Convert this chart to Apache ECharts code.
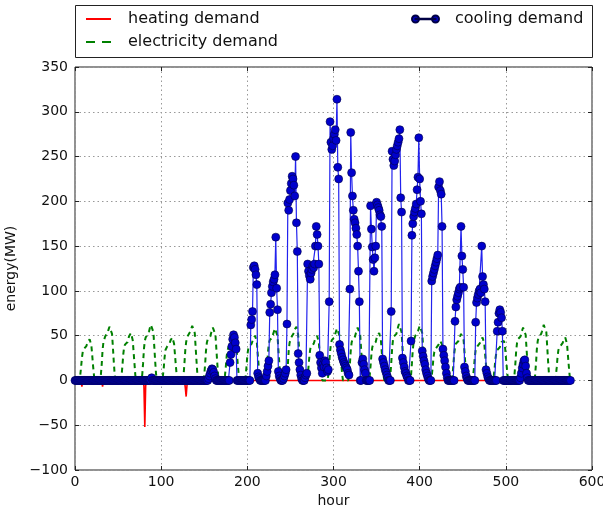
<!DOCTYPE html>
<html><head><meta charset="utf-8">
<script src="https://cdn.jsdelivr.net/npm/echarts@6/dist/echarts.min.js"></script>
<style>html,body{margin:0;padding:0;background:#fff}#c{width:603px;height:509px}</style>
</head><body><div id="c"></div>
<script>
// ---- data (hourly, 24 days) ----
const xTicks = [0, 100, 200, 300, 400, 500, 600];
const yTicks = [-100, -50, 0, 50, 100, 150, 200, 250, 300, 350];

// heating demand: breakpoints (hour, MW); zero elsewhere
const heatingHours  = [0, 7, 8, 9, 31, 32, 33, 79, 80, 81, 82, 83, 127, 128, 129, 130, 131, 136, 137, 138, 575];
const heatingValues = [0, 0, -7, 0, 0, -7, 0, 0, -6, -52, -6, 0, 0, -8, -18, -5, 0, 0, -5, 0, 0];

// electricity demand, one row per day (24 h)
const electricity = [
 0,0,0,0,0,0,5,14,25,32,35,37,36,38,40,43,45,46,45,39,28,16,6,0,
 0,0,0,0,0,0,6,18,34,43,46,49,48,50,54,57,60,61,59,52,37,21,7,0,
 0,0,0,0,0,0,5,16,29,37,40,42,41,43,47,50,52,53,51,45,32,19,6,0,
 0,0,0,0,0,0,6,19,35,44,48,50,49,52,55,59,62,63,61,54,38,22,8,0,
 0,0,0,0,0,0,5,14,26,34,36,38,37,39,42,45,47,48,47,41,29,17,6,0,
 0,0,0,0,0,0,6,19,34,43,47,50,48,51,55,58,61,62,60,53,37,22,7,0,
 0,0,0,0,0,0,6,18,33,42,46,48,47,49,53,56,59,60,58,51,36,21,7,0,
 0,0,0,0,0,0,5,15,27,33,37,38,38,40,42,45,47,48,46,41,29,17,6,0,
 0,0,0,0,0,0,5,15,28,35,38,40,39,41,44,47,49,50,48,43,30,18,6,0,
 0,0,0,0,0,0,6,18,32,41,45,47,46,48,52,55,58,59,57,50,35,21,7,0,
 0,0,0,0,0,0,6,17,33,42,45,48,47,50,53,57,59,60,58,51,36,21,7,0,
 0,0,0,0,0,0,5,15,27,35,38,40,39,41,44,47,49,50,49,42,30,17,6,0,
 0,0,0,0,0,0,6,17,32,41,45,47,46,48,52,55,58,59,57,50,35,20,7,0,
 0,0,0,0,0,0,6,18,33,42,46,48,47,49,53,56,59,60,58,51,36,21,7,0,
 0,0,0,0,0,0,5,16,29,37,40,42,41,43,47,50,52,53,51,45,32,19,6,0,
 0,0,0,0,0,0,6,19,35,45,49,51,50,52,56,60,63,64,62,54,38,22,8,0,
 0,0,0,0,0,0,6,19,34,43,47,50,48,51,55,58,61,62,60,53,37,22,7,0,
 0,0,0,0,0,0,5,14,25,32,34,36,35,37,40,42,44,45,44,38,27,16,5,0,
 0,0,0,0,0,0,5,16,29,37,41,42,41,44,47,49,52,53,51,45,32,19,6,0,
 0,0,0,0,0,0,5,14,26,34,36,38,38,39,42,45,47,48,46,41,29,17,6,0,
 0,0,0,0,0,0,5,14,25,31,34,36,35,37,40,43,44,45,44,38,27,16,5,0,
 0,0,0,0,0,0,6,18,33,42,46,48,47,49,53,56,59,60,58,51,36,21,7,0,
 0,0,0,0,0,0,6,19,35,44,48,50,49,52,55,59,62,63,61,54,38,22,8,0,
 0,0,0,0,0,0,5,14,26,34,36,38,37,39,42,45,47,48,47,41,29,17,6,0
];

// cooling demand, one row per day (24 h)
const cooling = [
 0,0,0,0,0,0,0,0,0,0,0,0,0,0,0,0,0,0,0,0,0,0,0,0,
 0,0,0,0,0,0,0,0,0,0,0,0,0,0,0,0,0,0,0,0,0,0,0,0,
 0,0,0,0,0,0,0,0,0,0,0,0,0,0,0,0,0,0,0,0,0,0,0,0,
 0,0,0,0,0,0,0,0,0,0,0,0,0,0,0,0,0,3,0,0,0,0,0,0,
 0,0,0,0,0,0,0,0,0,0,0,0,0,0,0,0,0,0,0,0,0,0,0,0,
 0,0,0,0,0,0,0,0,0,0,0,0,0,0,0,0,0,0,0,0,0,0,0,0,
 0,0,0,0,0,0,0,0,0,0,0,2,5,8,11,13,12,9,5,2,0,0,0,0,
 0,0,0,0,0,0,0,0,0,0,0,0,20,29,38,46,51,48,42,35,0,0,0,0,
 0,0,0,0,0,0,0,0,0,0,0,0,62,68,77,126,128,124,118,107,8,4,2,0,
 0,0,0,0,0,0,5,10,16,22,76,85,98,105,110,113,118,160,103,79,10,5,2,0,
 0,0,2,5,8,12,63,198,190,202,212,220,228,225,218,206,250,176,144,30,20,12,6,2,
 0,0,0,3,6,8,130,122,117,113,120,124,128,126,130,150,172,163,150,130,28,20,14,8,
 18,15,22,20,14,10,12,88,289,266,258,262,270,275,280,268,314,238,225,40,34,30,26,23,
 20,18,16,14,12,8,6,102,277,232,206,190,180,176,170,163,150,122,88,0,0,20,24,18,
 12,8,0,0,0,0,0,195,169,149,135,122,137,150,199,196,193,190,185,183,172,24,20,16,
 12,9,6,3,0,0,0,77,256,247,240,245,252,258,262,266,270,280,204,188,25,20,15,10,
 8,5,3,0,0,0,44,162,175,183,188,192,197,213,227,271,225,200,186,33,27,22,18,12,
 8,5,2,0,0,0,111,116,120,124,128,132,136,140,216,222,212,208,172,35,28,22,15,8,
 3,0,0,0,0,0,0,0,0,66,82,90,94,98,102,104,172,139,124,104,15,10,5,2,
 0,0,0,0,0,0,0,0,0,65,87,92,96,100,102,98,150,116,107,102,88,12,8,4,
 2,0,0,0,0,0,0,0,0,0,55,65,75,79,76,70,55,0,0,0,0,0,0,0,
 0,0,0,0,0,0,0,0,0,0,0,0,0,3,8,14,18,22,23,16,8,3,0,0,
 0,0,0,0,0,0,0,0,0,0,0,0,0,0,0,0,0,0,0,0,0,0,0,0,
 0,0,0,0,0,0,0,0,0,0,0,0,0,0,0,0,0,0,0,0,0,0,0,0
];

const seriesNames = ['heating demand', 'electricity demand', 'cooling demand'];

// ---- build ----
const pairs = arr => arr.map((v, i) => [i, v]);
const heatPairs = heatingHours.map((h, i) => [h, heatingValues[i]]);
const FONT = 'DejaVu Sans';
const fmtY = v => (v < 0 ? '\u2212' + Math.abs(v) : String(v));

const chart = echarts.init(document.getElementById('c'), null, {renderer: 'canvas'});
const baseX = {
  type: 'value', min: xTicks[0], max: xTicks[xTicks.length - 1], interval: 100,
  axisLine: {show: false, onZero: false},
  axisTick: {show: true, inside: true, length: 4, lineStyle: {color: '#222'}}
};
const baseY = {
  type: 'value', min: yTicks[0], max: yTicks[yTicks.length - 1], interval: 50,
  axisLine: {show: false, onZero: false},
  axisTick: {show: true, inside: true, length: 4, lineStyle: {color: '#222'}}
};
chart.setOption({
  animation: false,
  backgroundColor: '#fff',
  textStyle: {fontFamily: FONT},
  grid: {left: 75, right: 11, top: 67, bottom: 39, show: true, borderColor: '#222', borderWidth: 1,
         backgroundColor: 'transparent', containLabel: false, outerBoundsMode: 'none'},
  graphic: [{
    type: 'rect', z: -1, left: 75, top: 5,
    shape: {width: 517, height: 52},
    style: {fill: '#fff', stroke: '#222', lineWidth: 1}
  }],
  legend: [
    {data: [{name: seriesNames[0], icon: 'path://M0,0H25V2H0z'}], left: 86, top: 11, padding: 0,
     itemWidth: 25, itemHeight: 2, textStyle: {fontSize: 16, fontFamily: FONT, color: '#111', padding: [0, 0, 0, 12]}},
    {data: [{name: seriesNames[1], icon: 'path://M0,0H9V2H0z M16,0H25V2H16z'}], left: 86, top: 34, padding: 0,
     itemWidth: 25, itemHeight: 2, textStyle: {fontSize: 16, fontFamily: FONT, color: '#111', padding: [0, 0, 0, 12]}},
    {data: [{name: seriesNames[2], icon: 'path://M0,3.5a3.5,3.5 0 1,0 7,0a3.5,3.5 0 1,0 -7,0z M20,3.5a3.5,3.5 0 1,0 7,0a3.5,3.5 0 1,0 -7,0z M3.5,3.2H23.5V3.8H3.5z'}],
     left: 411, top: 11, padding: 0,
     itemWidth: 27, itemHeight: 7, textStyle: {fontSize: 16, fontFamily: FONT, color: '#111', padding: [0, 0, 0, 11]}}
  ],
  xAxis: [
    Object.assign({}, baseX, {
      position: 'bottom', name: 'hour', nameLocation: 'middle', nameGap: 22,
      nameTextStyle: {fontSize: 14, color: '#111', fontFamily: FONT},
      axisLabel: {fontSize: 14, color: '#111', margin: 5, fontFamily: FONT},
      splitLine: {show: true, lineStyle: {color: '#999', type: [1.5, 3], width: 1}}
    }),
    Object.assign({}, baseX, {position: 'top', axisLabel: {show: false}, splitLine: {show: false}})
  ],
  yAxis: [
    Object.assign({}, baseY, {
      position: 'left', name: 'energy(MW)', nameLocation: 'middle', nameGap: 42,
      nameTextStyle: {fontSize: 14, color: '#111', fontFamily: FONT},
      axisLabel: {fontSize: 14, color: '#111', margin: 7, fontFamily: FONT, formatter: fmtY},
      splitLine: {show: true, lineStyle: {color: '#999', type: [1.5, 3], width: 1}}
    }),
    Object.assign({}, baseY, {position: 'right', axisLabel: {show: false}, splitLine: {show: false}})
  ],
  series: [
    {name: seriesNames[0], type: 'line', data: heatPairs, symbol: 'none',
     lineStyle: {color: '#ff0000', width: 1.6}, itemStyle: {color: '#ff0000'}},
    {name: seriesNames[1], type: 'line', data: pairs(electricity), symbol: 'none',
     lineStyle: {color: '#008000', width: 2, type: [5, 4]}, itemStyle: {color: '#008000'}},
    {name: seriesNames[2], type: 'line', data: pairs(cooling), symbol: 'circle', symbolSize: 8,
     showSymbol: true, lineStyle: {color: '#2222ee', width: 1.2},
     itemStyle: {color: '#0000cc', borderColor: '#000044', borderWidth: 0.6}}
  ]
});
</script></body></html>
